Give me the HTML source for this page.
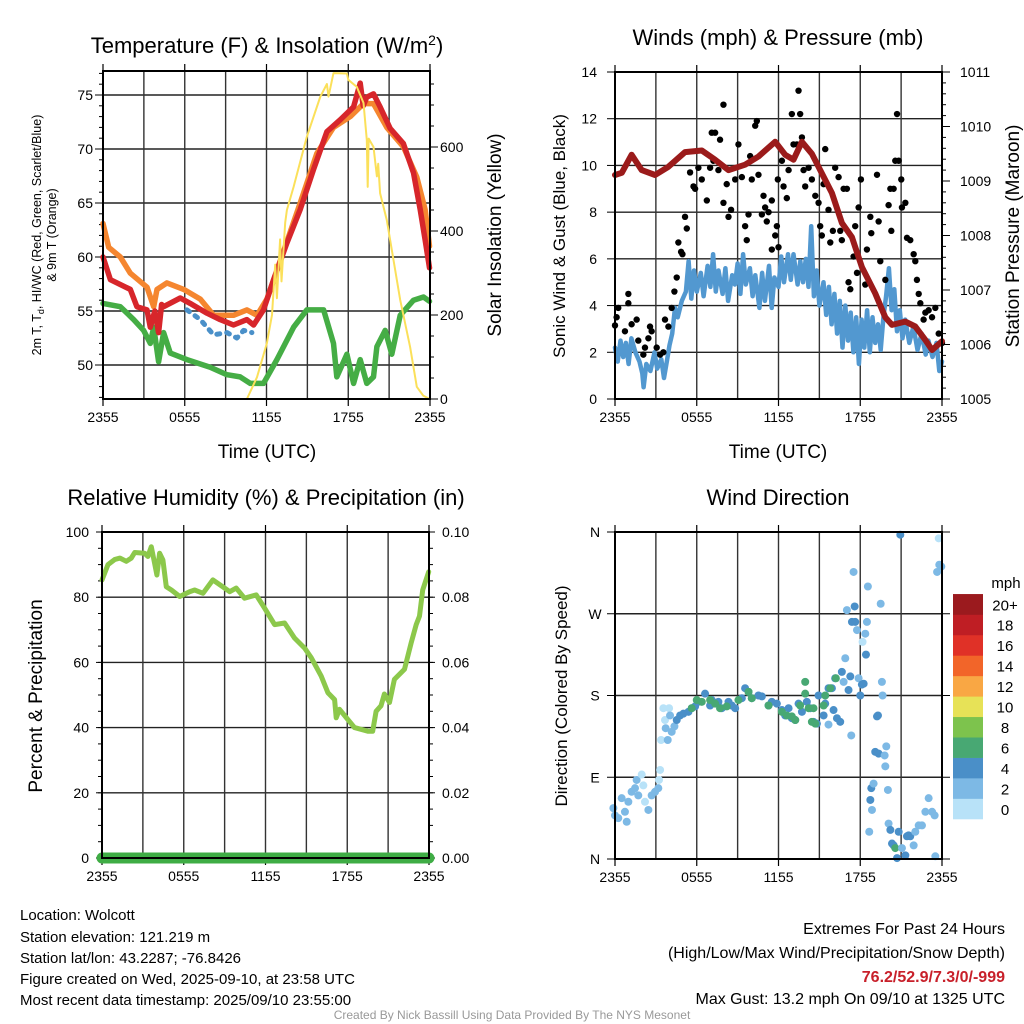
<!DOCTYPE html>
<html><head><meta charset="utf-8"><style>
html,body{margin:0;padding:0;background:#fff;}
svg{display:block;font-family:"Liberation Sans",Arial,sans-serif;}
</style></head><body>
<svg id="fig" width="1024" height="1024" viewBox="0 0 1024 1024">
<rect width="1024" height="1024" fill="#fff"/>
<g id="p1"></g>
<g id="p2"></g>
<g id="p3"></g>
<g id="p4"></g>
<g font-size="22" text-anchor="middle" fill="#000">
<text x="267" y="53">Temperature (F) &amp; Insolation (W/m<tspan dy="-8" font-size="14">2</tspan><tspan dy="8">)</tspan></text>
<text x="778" y="45">Winds (mph) &amp; Pressure (mb)</text>
<text x="266" y="505">Relative Humidity (%) &amp; Precipitation (in)</text>
<text x="778" y="505">Wind Direction</text>
</g>
<g fill="#000">
<text x="267" y="458" font-size="19" text-anchor="middle">Time (UTC)</text>
<text x="778" y="458" font-size="19" text-anchor="middle">Time (UTC)</text>
<text transform="translate(41,235) rotate(-90)" font-size="12.5" text-anchor="middle">2m T, T<tspan dy="3" font-size="9">d</tspan><tspan dy="-3">, HI/WC (Red, Green, Scarlet/Blue)</tspan></text>
<text transform="translate(56,235) rotate(-90)" font-size="12.5" text-anchor="middle">&amp; 9m T (Orange)</text>
<text transform="translate(501,235) rotate(-90)" font-size="19" text-anchor="middle">Solar Insolation (Yellow)</text>
<text transform="translate(565,236) rotate(-90)" font-size="17" text-anchor="middle">Sonic Wind &amp; Gust (Blue, Black)</text>
<text transform="translate(1019,236) rotate(-90)" font-size="19" text-anchor="middle">Station Pressure (Maroon)</text>
<text transform="translate(42,696) rotate(-90)" font-size="19" text-anchor="middle">Percent &amp; Precipitation</text>
<text transform="translate(567,696) rotate(-90)" font-size="17" text-anchor="middle">Direction (Colored By Speed)</text>
</g>
<g font-size="15" fill="#000">
<text x="20" y="920">Location: Wolcott</text>
<text x="20" y="942">Station elevation: 121.219 m</text>
<text x="20" y="963">Station lat/lon: 43.2287; -76.8426</text>
<text x="20" y="984">Figure created on Wed, 2025-09-10, at 23:58 UTC</text>
<text x="20" y="1005">Most recent data timestamp: 2025/09/10 23:55:00</text>
</g>
<g font-size="16" text-anchor="end" fill="#000">
<text x="1005" y="934">Extremes For Past 24 Hours</text>
<text x="1005" y="958">(High/Low/Max Wind/Precipitation/Snow Depth)</text>
<text x="1005" y="982" fill="#c8202a" font-weight="bold">76.2/52.9/7.3/0/-999</text>
<text x="1005" y="1004">Max Gust: 13.2 mph On 09/10 at 1325 UTC</text>
</g>
<text x="512" y="1019" font-size="12" fill="#999" text-anchor="middle">Created By Nick Bassill Using Data Provided By The NYS Mesonet</text>
</svg>
<script>
// ---- Panel 1 data ----
const redT=[0,.54,2,2.49,3.23,3.47,3.8,4.08,4.3,4.45,5.67,6.4,7.63,8.6,9.58,10.56,11.05,11.78,12.52,13.5,14.47,15.45,16.43,17.41,18.39,18.88,19.1,19.36,19.85,20.34,21.08,22.05,22.79,23.28,23.64,23.96];
const redV=[60,57.9,57,55.4,55.1,53.5,55,53,55.6,55.4,56.2,55.7,54.8,54.2,53.7,54.2,53.7,55.1,57.9,61.3,64.4,68.1,71.6,72.7,73.9,76.1,74,74.8,75.1,73.9,71.9,70.5,67.8,64.4,61.6,59];
const orgT=[0,.42,1.27,2,3.23,3.72,3.96,4.69,5.92,7.14,8.12,9.58,10.56,11.3,12.03,13,14.47,15.7,16.92,18.14,19.12,19.85,20.83,22.05,23.03,23.64,23.96];
const orgV=[63.1,60.9,60,58.5,57.2,55.4,57,57.6,57,56.1,54.6,54.6,55.1,54.6,56.1,59.6,65,69.6,72,73,74.2,74.2,72,70.2,67.4,64.4,61];
const grnT=[0,1.27,2.25,2.98,3.47,3.72,4.08,4.45,4.94,6.16,7.87,9.1,10.07,10.81,11.78,12.76,13.99,14.96,16.19,16.92,17.16,17.9,18.39,18.88,19.36,19.85,20.1,20.71,21.2,21.81,22.79,23.52,23.96];
const grnV=[55.7,55.4,54.2,53.2,52,53.5,50.3,53,51.1,50.5,49.8,49.1,48.9,48.3,48.3,50.5,53.5,55.1,55.1,52,48.9,51,48.3,50.5,48.3,48.9,51.7,53.2,51,54.6,56,56.3,55.9];
const hiT=[6.16,7.14,8.12,9.1,9.83,10.32,10.93];
const hiV=[55.1,54.2,52.8,53,52.5,53.2,53.0];
const solT=[0,10.56,11.3,12.03,12.4,12.64,12.76,13,13.1,13.37,13.5,13.99,14.96,15.94,16.43,16.55,16.92,17.9,18,18.63,19.12,19.36,19.43,19.5,19.85,20.1,20.2,20.34,20.83,21.32,21.81,22.54,23.03,23.5,23.96];
const solV=[0,0,52,133,200,320,240,380,280,420,450,505,624,719,750,720,776,775,760,743,705,617,505,620,600,530,560,490,426,331,236,124,29,8,0];
const tempTicks=[50,55,60,65,70,75];
const solTicks=[0,200,400,600];
const timeTickHours=[0,6,12,18,24];
const timeTickLabels=["2355","0555","1155","1755","2355"];
// ---- Panel 2 data ----
const windT=[0,.2,.4,.6,.8,1,1.2,1.5,1.8,2,2.1,2.3,2.6,2.9,3.1,3.4,3.6,3.8,4,4.2,4.4,4.6,4.9,5.2,5.4,5.6,5.8,6,6.3,6.5,6.8,7,7.2,7.4,7.6,7.9,8.1,8.3,8.6,8.8,9,9.2,9.4,9.6,9.9,10.1,10.3,10.6,10.8,11,11.3,11.5,11.7,12,12.2,12.4,12.7,12.9,13.1,13.4,13.6,13.8,14,14.2,14.4,14.6,14.8,15,15.3,15.5,15.7,15.9,16.1,16.3,16.5,16.7,16.9,17.1,17.3,17.5,17.7,17.9,18.1,18.3,18.5,18.7,18.9,19.1,19.3,19.5,19.7,19.9,20.1,20.3,20.5,20.7,20.9,21.1,21.3,21.6,21.9,22.2,22.5,22.8,23,23.3,23.6,23.8,24];
const windV=[2.2,1.6,2.5,1.8,2.4,1.5,2.6,2,1.6,1.1,.5,1.5,1.2,2,1.3,1.7,.9,1.6,2.3,2.8,3.9,3.5,4.2,4.6,5.9,4.3,5.5,4.6,5.4,4.4,5.7,4.8,6.2,4.6,5.5,4.5,5.6,4.2,5.3,4.9,5.8,4.5,6.2,4.9,5.6,4.4,5.3,3.9,5.4,4.2,5.7,3.9,5.2,4.8,6.1,5,6.2,5.1,6.2,4.9,5.9,5,6,4.8,7.4,4.4,5.5,4,5,3.6,4.8,3.2,4.5,2.8,4.2,2.2,4,2.5,3.7,2,3.5,1.5,3.4,2.2,3.8,2,3.5,2.4,3.2,2.1,3.5,4.4,5.6,3.8,4.7,2.9,3.8,2.6,3.4,2.4,3.1,2.1,2.8,1.9,2.5,1.8,2.4,1.2,1.6];
const gustT=[0,.12,.24,.73,.98,.98,1.22,1.59,1.71,2.08,2.2,2.45,2.57,2.69,3.06,3.31,3.55,3.67,3.92,4.16,4.36,4.53,4.65,4.85,4.95,5.14,5.27,5.51,5.76,5.88,6.12,6.37,6.74,6.98,7.1,7.22,7.35,7.59,7.71,7.96,7.96,8.2,8.33,8.52,8.82,9.06,9.31,9.55,9.67,9.8,9.92,10.04,10.29,10.41,10.53,10.78,10.9,11.02,11.14,11.27,11.51,11.51,11.76,11.88,12,11.95,12.25,12.37,12.61,12.74,12.98,13.1,13.35,13.47,13.59,13.72,13.84,13.96,14.21,14.45,14.7,14.94,15.06,15.18,15.31,15.43,15.67,15.8,15.99,16.16,16.41,16.53,16.65,16.78,17.02,17.14,17.27,17.51,17.63,17.76,17.88,18.05,18.37,18.49,18.74,18.81,19.23,19.35,19.47,19.84,20.08,20.21,20.28,20.45,20.7,20.57,20.82,21.01,21.06,21.31,21.43,21.67,21.92,22.04,22.16,22.29,22.41,22.65,22.78,23.02,23.27,23.51,23.76,24];
const gustV=[3.15,3.5,3.9,2.9,4.5,4.1,3.2,3.4,2.5,1.9,2.2,2.6,3.1,2.9,2.2,1.9,2,3.4,3.1,3.9,4.6,5.2,6.7,6.3,6.2,7.8,7.3,9.7,9.1,9,9.9,9.4,8.5,9.9,11.4,10.2,11.4,9.8,11.1,12.6,8.4,9.2,7.8,8.1,9.4,10.9,9.5,7.4,6.8,7.9,10.4,9.4,11.7,11.9,9.6,7.9,8.7,8.2,7.6,8,8.5,6.4,7,7.4,6.5,9.4,10.2,9.1,8.6,9.8,12.2,10.9,10.9,13.2,12.2,11.2,9.8,9.1,9.9,9.4,8.7,8.4,7.4,7,9.2,10.7,8.1,6.7,7.2,9.9,9.5,7.2,6.8,9,9,5,4.7,6.1,7.4,5.4,8.2,9.4,4.9,6.4,7.8,7.1,9.6,7.6,5.9,5.1,8.3,9,7.2,9,12.2,10.2,10.2,9.4,8.2,8.4,6.9,6.8,6.2,5.9,5.1,4.5,4.1,3.4,3.7,3.8,3.5,3.9,2.8,2.4];
const presT=[0,.5,1.22,1.96,2.94,3.92,5.14,6.37,7.35,8.33,9.55,10.53,11.76,12.49,13.1,13.72,14.45,15.43,15.92,16.65,17.39,18.12,19.1,19.84,20.33,21.31,22.04,22.78,23.27,24];
const presV=[1009.11,1009.15,1009.48,1009.2,1009.11,1009.26,1009.53,1009.56,1009.39,1009.2,1009.3,1009.45,1009.72,1009.48,1009.39,1009.72,1009.5,1009.02,1008.78,1008.23,1007.97,1007.42,1006.94,1006.5,1006.36,1006.42,1006.33,1006.08,1005.9,1006.06];
const windTicks=[0,2,4,6,8,10,12,14];
const presTicks=[1005,1006,1007,1008,1009,1010,1011];
// ---- Panel 3 data ----
const rhT=[0,.44,.95,1.32,1.78,2.15,2.4,3.13,3.37,3.62,3.86,4.03,4.23,4.47,4.72,5.09,5.7,6.43,6.8,7.41,8.14,9,9.37,9.85,10.46,11.32,11.93,12.67,13.4,14.13,14.87,15.36,16.09,16.58,17.07,17.19,17.43,18.04,18.53,19.51,19.87,20.12,20.48,20.73,21.1,21.46,22.2,22.69,23.06,23.3,23.54,23.98];
const rhV=[85.3,90,91.6,92,91,92,93.7,93.5,92.5,95.5,90.4,86.8,93.5,91.4,83.2,82.2,80.2,81.7,82.2,81.2,85.3,82.8,81.7,82.8,79.7,80.7,76.7,71.6,72.1,67.5,64.4,61.4,55.8,50.7,48.6,43,45.6,42.5,40,38.9,38.9,45,46.7,50.3,47.7,54.8,57.9,66,71.6,74.2,82.2,87.8];
const precipT=[0,24];
const precipV=[0,0];
const rhTicks=[0,20,40,60,80,100];
const precipTicks=["0.00","0.02","0.04","0.06","0.08","0.10"];
// ---- Panel 4 data ----
const dirT=[
-.12,0,.24,.49,.73,.86,.98,1.22,1.47,1.59,
1.71,1.96,2.08,2.2,2.45,2.69,2.94,3.18,3.23,3.31,
3.38,3.55,3.67,3.72,3.87,3.97,4.04,4.16,4.36,4.53,
4.78,5.02,5.39,5.63,5.88,6.12,6.61,6.98,7.1,7.59,
7.84,8.33,8.57,8.82,9.31,9.55,9.8,10.04,10.53,10.78,
11.27,11.51,11.88,12.25,12.49,12.74,12.98,13.23,13.47,13.72,
13.96,13.96,14.08,14.33,14.57,14.82,14.94,15.31,15.43,15.67,
15.67,15.92,16.04,16.16,16.29,16.53,16.65,16.78,16.9,17.02,
17.14,17.27,17.34,17.39,17.51,17.59,17.63,17.76,17.88,18.0,
18.12,18.17,18.25,18.37,18.42,18.49,18.56,18.66,18.74,18.81,
18.86,18.98,19.23,19.3,19.1,19.35,19.5,19.59,19.64,19.79,
19.84,19.91,20.03,20.08,20.21,20.33,20.45,20.57,20.7,20.82,
20.94,21.06,21.31,21.43,21.55,21.67,21.92,22.04,22.29,22.53,
22.78,23.02,23.27,23.46,23.51,23.64,23.76,23.8,23.95,
5.63,6.0,6.37,6.98,7.35,7.71,8.2,9.06,9.8,10.04,
11.27,12.25,12.61,12.98,13.23,13.59,14.21,14.57,14.45,14.7,
15.31,15.43,15.8,16.21];
const dirV=[
56,48,45,67,52,41,63,74,78,87,
70,93,81,63,54,70,74,78,87,98,
131,166,153,144,131,166,158,140,146,153,
158,160,162,166,168,173,182,169,175,173,
166,173,169,166,177,188,184,177,180,179,
169,173,171,164,158,166,155,153,171,162,
195,182,173,166,151,149,180,158,171,188,
148,188,164,199,155,151,206,195,221,274,
186,201,136,261,316,278,261,252,199,180,
192,239,193,248,225,261,300,30,65,78,
54,83,157,158,118,116,281,195,180,114,
102,124,76,39,32,17,15,12,1,30,
357,12,4,25,26,25,15,30,37,37,
52,67,52,48,3,316,353,324,322,
166,175,173,175,171,166,168,175,184,177,
169,162,158,157,153,169,166,166,151,149,
169,180,188,199];
const dirS=[
3,3,3,3,3,3,3,3,3,3,
3,1,1,1,3,3,3,3,1,1,
1,1,1,3,3,1,3,3,3,5,
5,5,5,5,5,5,5,5,5,5,
5,5,5,5,5,5,5,5,5,5,
5,5,5,5,5,5,5,5,5,5,
7,7,5,5,5,5,5,5,5,5,
3,5,5,5,5,5,5,3,3,3,
5,5,3,5,3,5,5,3,3,5,
5,1,5,3,5,3,3,3,5,5,
3,3,5,5,5,5,3,3,3,3,
3,3,3,3,5,5,5,7,5,5,
5,3,5,5,5,5,3,3,3,3,
3,3,3,3,3,3,1,3,3,
7,7,7,7,7,7,7,7,7,7,
7,7,7,7,7,7,7,7,7,7,
7,7,7,7];
const dirTickLabels=["N","E","S","W","N"];
const dirTickValues=[0,90,180,270,360];
const cbLabels=["0","2","4","6","8","10","12","14","16","18","20+"];
const cbColors=["#b8e2f8","#7db9e5","#4a8fc8","#48a873","#7dc34d","#e7e257","#f9a744","#f26529","#e03127","#bf1e24","#9b1a1e"];

const NS="http://www.w3.org/2000/svg";
function el(tag,attrs,parent){const e=document.createElementNS(NS,tag);for(const k in attrs)e.setAttribute(k,attrs[k]);parent.appendChild(e);return e;}
function lin(d0,d1,r0,r1){return v=>r0+(v-d0)*(r1-r0)/(d1-d0);}
function path(xs,ys,sx,sy){return xs.map((t,i)=>(i?"L":"M")+sx(t).toFixed(1)+","+sy(ys[i]).toFixed(1)).join("");}

function frame(g,x0,x1,y0,y1,sx){
  for(let h=3;h<24;h+=3){const l=el("line",{x1:sx(h),x2:sx(h),y1:y0,y2:y1,stroke:"#333","stroke-width":1.4},g);
    
    }
  timeTickHours.forEach((h,i)=>{
    el("line",{x1:sx(h),x2:sx(h),y1:y1,y2:y1+7,stroke:"#000","stroke-width":1.2},g);
    el("line",{x1:sx(h),x2:sx(h),y1:y0-7,y2:y0,stroke:"#000","stroke-width":1.2},g);
    const t=el("text",{x:sx(h),y:y1+23,"font-size":14,"text-anchor":"middle"},g);t.textContent=timeTickLabels[i];
    
    
  });
}
function hgrid(g,x0,x1,y){const l=el("line",{x1:x0,x2:x1,y1:y,y2:y,stroke:"#222","stroke-width":1.4},g);
  
  }
function border(g,x0,x1,y0,y1){const r=el("rect",{x:x0,y:y0,width:x1-x0,height:y1-y0,fill:"none",stroke:"#000","stroke-width":2},g);
  
  }
function label(g,x,y,txt,anchor,name){const t=el("text",{x:x,y:y,"font-size":14,"text-anchor":anchor},g);t.textContent=txt;
  
  }
function line(g,xs,ys,sx,sy,color,w,name,extra){const p=el("path",Object.assign({d:path(xs,ys,sx,sy),fill:"none",stroke:color,"stroke-width":w,"stroke-linejoin":"round","stroke-linecap":"round"},extra||{}),g);
  
  }

// Panel 1
(function(){const g=document.getElementById("p1");const x0=103,x1=430,y0=71,y1=399;
 const sx=lin(0,24,x0,x1),sy=lin(75,50,95,365),ss=lin(0,600,399,147);
 tempTicks.forEach(v=>{hgrid(g,x0,x1,sy(v));label(g,x0-10,sy(v)+5,String(v),"end","temp-tick-label");});
 for(let v=47;v<=77;v++){el("line",{x1:x0-(v%5?4:8),x2:x0,y1:sy(v),y2:sy(v),stroke:"#000"},g);}
 solTicks.forEach(v=>{label(g,x1+10,ss(v)+5,String(v),"start","solar-tick-label");});
 for(let v=0;v<=750;v+=50){el("line",{x1:x1,x2:x1+(v%200?4:8),y1:ss(v),y2:ss(v),stroke:"#000"},g);}
 frame(g,x0,x1,y0,y1,sx);
 line(g,grnT,grnV,sx,sy,"#45ad45",5.5,"dewpoint-line");
 line(g,orgT,orgV,sx,sy,"#f5862f",5.5,"temp-9m-line");
 line(g,redT,redV,sx,sy,"#d7262b",5.5,"temp-2m-line");
 line(g,hiT,hiV,sx,sy,"#4a90c9",5,"heat-index-line",{"stroke-dasharray":"3 7"});
 line(g,solT,solV,sx,ss,"#fbe05a",2,"solar-line");
 border(g,x0,x1,y0,y1);})();

// Panel 2
(function(){const g=document.getElementById("p2");const x0=615,x1=942,y0=72,y1=399;
 const sx=lin(0,24,x0,x1),sy=lin(0,14,399,72),sp=lin(1005,1011,399,72);
 windTicks.forEach(v=>{hgrid(g,x0,x1,sy(v));label(g,x0-18,sy(v)+5,String(v),"end","wind-tick-label");
   el("line",{x1:x0-8,x2:x0,y1:sy(v),y2:sy(v),stroke:"#000"},g);});
 presTicks.forEach(v=>{label(g,x1+18,sp(v)+5,String(v),"start","pressure-tick-label");
   el("line",{x1:x1,x2:x1+8,y1:sp(v),y2:sp(v),stroke:"#000"},g);});
 for(let v=1005;v<=1011;v+=0.2){el("line",{x1:x1,x2:x1+4,y1:sp(v),y2:sp(v),stroke:"#000"},g);}
 frame(g,x0,x1,y0,y1,sx);
 line(g,windT,windV,sx,sy,"#5298d0",4.5,"sonic-wind-line");
 gustT.forEach((t,i)=>{const c=el("circle",{cx:sx(t),cy:sy(gustV[i]),r:3.2,fill:"#000"},g);
   
   });
 line(g,presT,presV,sx,sp,"#9b1b1b",6,"pressure-line");
 border(g,x0,x1,y0,y1);})();

// Panel 3
(function(){const g=document.getElementById("p3");const x0=102,x1=429,y0=532,y1=858;
 const sx=lin(0,24,x0,x1),sy=lin(0,100,858,532),sq=lin(0,0.1,858,532);
 rhTicks.forEach((v,i)=>{hgrid(g,x0,x1,sy(v));label(g,x0-13,sy(v)+5,String(v),"end","rh-tick-label");
   label(g,x1+13,sy(v)+5,precipTicks[i],"start","precip-tick-label");
   el("line",{x1:x0-6,x2:x0,y1:sy(v),y2:sy(v),stroke:"#000"},g);el("line",{x1:x1,x2:x1+6,y1:sy(v),y2:sy(v),stroke:"#000"},g);});
 for(let v=0;v<=100;v+=5){el("line",{x1:x1,x2:x1+4,y1:sy(v),y2:sy(v),stroke:"#000"},g);el("line",{x1:x0-4,x2:x0,y1:sy(v),y2:sy(v),stroke:"#000"},g);}
 frame(g,x0,x1,y0,y1,sx);
 line(g,rhT,rhV,sx,sy,"#8cc84b",5,"humidity-line");
 line(g,precipT,precipV,sx,sq,"#3fad45",11,"precip-line");
 border(g,x0,x1,y0,y1);})();

// Panel 4
(function(){const g=document.getElementById("p4");const x0=615,x1=942,y0=532,y1=859;
 const sx=lin(0,24,x0,x1),sy=lin(0,360,859,532);
 dirTickValues.forEach((v,i)=>{hgrid(g,x0,x1,sy(v));label(g,x0-20,sy(v)+5,dirTickLabels[i],"middle","direction-tick-label");
   el("line",{x1:x0-8,x2:x0,y1:sy(v),y2:sy(v),stroke:"#000"},g);el("line",{x1:x1,x2:x1+8,y1:sy(v),y2:sy(v),stroke:"#000"},g);});
 frame(g,x0,x1,y0,y1,sx);
 dirT.forEach((t,i)=>{const c=el("circle",{cx:sx(t),cy:sy(dirV[i]),r:4,fill:cbColors[Math.min(10,Math.floor(dirS[i]/2))]},g);
   
   });
 border(g,x0,x1,y0,y1);
 const cb=el("g",{},g);
 
 
 const bh=20.45;
 cbColors.forEach((c,i)=>{const y=819-(i+1)*bh;el("rect",{x:953,y:y,width:30,height:bh+0.3,fill:c},cb);
   const t=el("text",{x:1005,y:y+bh/2+6,"font-size":15,"text-anchor":"middle"},cb);t.textContent=cbLabels[i];
   
   });
 const u=el("text",{x:1006,y:588,"font-size":15,"text-anchor":"middle"},cb);u.textContent="mph";
 
 
})();
</script>
</body></html>
